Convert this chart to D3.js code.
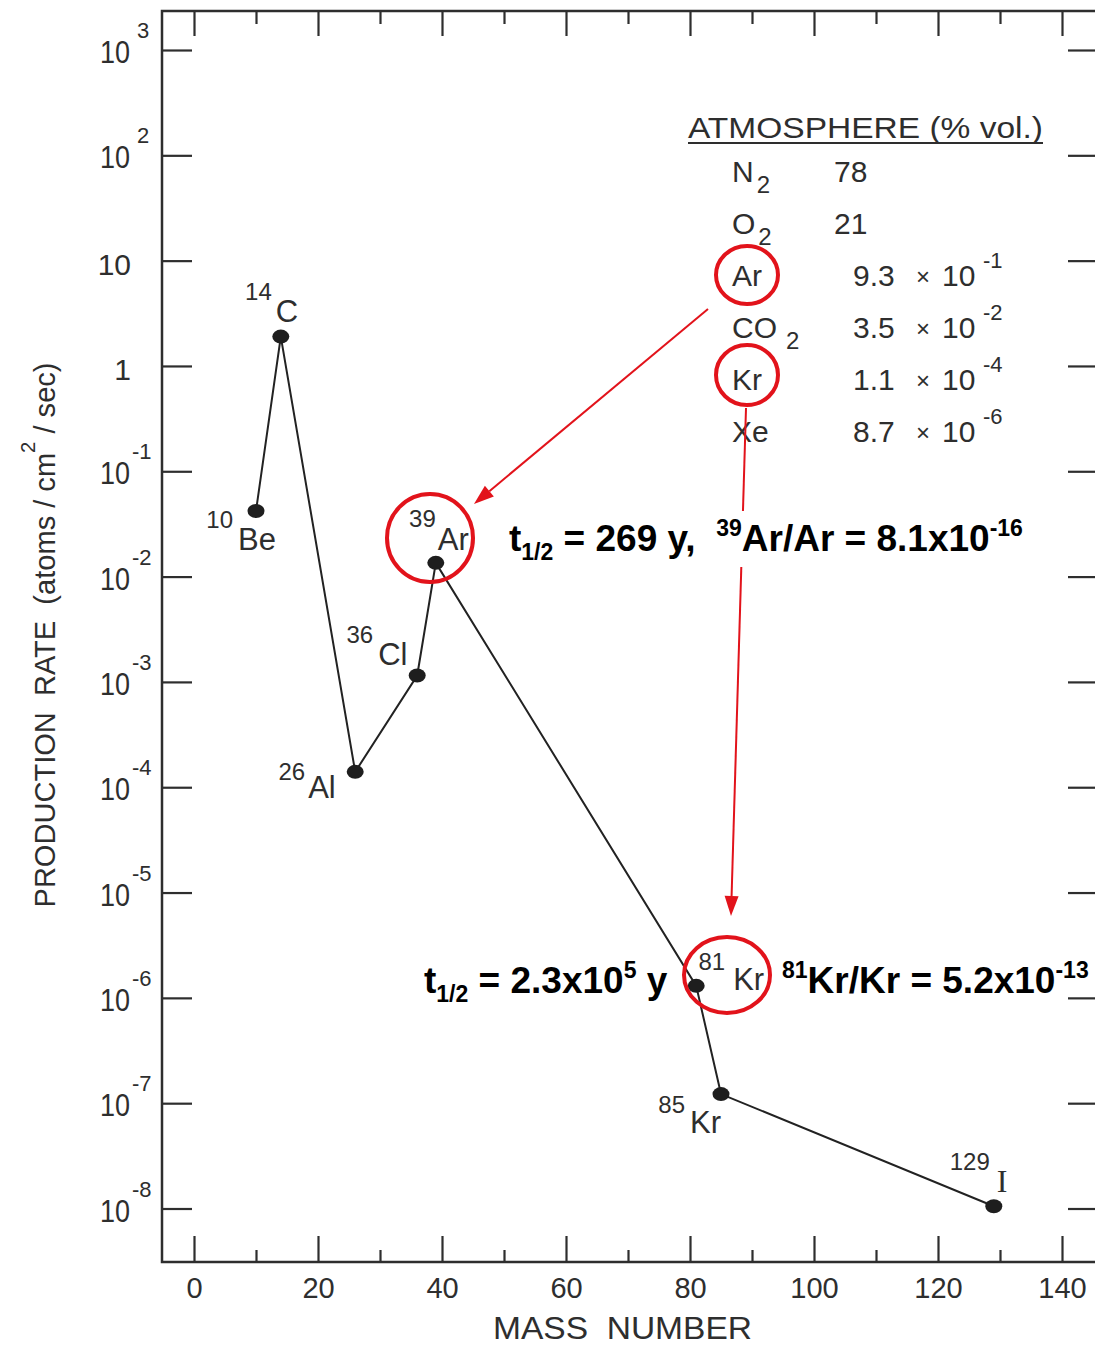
<!DOCTYPE html>
<html>
<head>
<meta charset="utf-8">
<script src="https://cdn.jsdelivr.net/npm/d3@7"></script>
<style>
  body { margin: 0; background: #fff; }
  svg { display: block; font-family: "Liberation Sans", Arial, sans-serif; }
  text { white-space: pre; }
</style>
</head>
<body>
<svg id="chart" width="1095" height="1347"></svg>
<script>
// isotope data: mass number and production rate (atoms / cm2 / sec)
var isotopes = ["10Be", "14C", "26Al", "36Cl", "39Ar", "81Kr", "85Kr", "129I"];
var massNumbers = [10, 14, 26, 36, 39, 81, 85, 129];
var elements = ["Be", "C", "Al", "Cl", "Ar", "Kr", "Kr", "I"];
var rates = [0.042, 1.9, 1.4e-4, 1.15e-3, 1.35e-2, 1.3e-6, 1.22e-7, 1.05e-8];
// plotted in this order along the line
var lineOrder = ["10Be", "14C", "26Al", "36Cl", "39Ar", "81Kr", "85Kr", "129I"];

// axis ticks
var xMajor = [0, 20, 40, 60, 80, 100, 120, 140];
var xMinor = [10, 30, 50, 70, 90, 110, 130];
var yExponents = [3, 2, 1, 0, -1, -2, -3, -4, -5, -6, -7, -8];

// atmosphere table
var atmGas = ["N", "O", "Ar", "CO", "Kr", "Xe"];
var atmSub = ["2", "2", "", "2", "", ""];
var atmValue = ["78", "21", "9.3", "3.5", "1.1", "8.7"];
var atmExp = [null, null, "-1", "-2", "-4", "-6"];

var svg = d3.select("#chart");
var ink = "#2e2e2e";

var frame = {left: 162, right: 1100, top: 11, bottom: 1262};
var x = d3.scaleLinear().domain([0, 140]).range([194, 1062]);
var y = d3.scaleLog().domain([1e-8, 1e3]).range([1208.5, 50]);

//frame
svg.append("path")
    .attr("d", "M" + frame.right + "," + frame.top + "H" + frame.left + "V" + frame.bottom + "H" + frame.right)
    .attr("fill", "none").attr("stroke", ink).attr("stroke-width", 2.5);

function styleAxis(g)
{
    g.select(".domain").remove();
    g.selectAll(".tick line").attr("stroke", ink).attr("stroke-width", 2.2);
}

//bottom axis, ticks pointing inward
svg.append("g").attr("transform", "translate(0," + frame.bottom + ")")
    .call(d3.axisBottom(x).tickValues(xMajor).tickSize(-26).tickPadding(15))
    .call(styleAxis)
    .call(function(g) {
        g.selectAll("text").attr("fill", ink).attr("font-size", 29)
            .attr("font-family", "Liberation Sans, Arial, sans-serif");
    });
svg.append("g").attr("transform", "translate(0," + frame.bottom + ")")
    .call(d3.axisBottom(x).tickValues(xMinor).tickSize(-12).tickFormat(""))
    .call(styleAxis);

//top axis
svg.append("g").attr("transform", "translate(0," + frame.top + ")")
    .call(d3.axisTop(x).tickValues(xMajor).tickSize(-25).tickFormat(""))
    .call(styleAxis);
svg.append("g").attr("transform", "translate(0," + frame.top + ")")
    .call(d3.axisTop(x).tickValues(xMinor).tickSize(-13).tickFormat(""))
    .call(styleAxis);

var decades = yExponents.map(function(e) { return Math.pow(10, e); });

//left axis
svg.append("g").attr("transform", "translate(" + frame.left + ",0)")
    .call(d3.axisLeft(y).tickValues(decades).tickSize(-30).tickFormat(""))
    .call(styleAxis);
//right axis (frame edge is just off the picture)
svg.append("g").attr("transform", "translate(" + frame.right + ",0)")
    .call(d3.axisRight(y).tickValues(decades).tickSize(-32).tickFormat(""))
    .call(styleAxis);

//y tick labels as 10 with superscript exponent
var yLab = svg.append("g").attr("fill", ink);
yExponents.forEach(function(e) {
    var ty = y(Math.pow(10, e));
    if (e == 0 || e == 1)
    {
        yLab.append("text").attr("x", 131).attr("y", ty + 14)
            .attr("text-anchor", "end").attr("font-size", 30)
            .text(e == 0 ? "1" : "10");
        return;
    }
    yLab.append("text").attr("x", 130).attr("y", ty + 13)
        .attr("text-anchor", "end").attr("font-size", 31)
        .attr("textLength", 30).attr("lengthAdjust", "spacingAndGlyphs")
        .text("10");
    yLab.append("text").attr("x", e > 0 ? 137 : 132).attr("y", ty - 12)
        .attr("font-size", 22)
        .text(e > 0 ? String(e) : "-" + Math.abs(e));
});

//axis titles
svg.append("text").attr("x", 493).attr("y", 1339)
    .attr("fill", ink).attr("font-size", 32)
    .attr("textLength", 259).attr("lengthAdjust", "spacingAndGlyphs")
    .text("MASS  NUMBER");

var yTitle = svg.append("text")
    .attr("transform", "translate(55,635) rotate(-90)")
    .attr("text-anchor", "middle")
    .attr("fill", ink).attr("font-size", 30)
    .attr("textLength", 545).attr("lengthAdjust", "spacingAndGlyphs");
yTitle.append("tspan").text("PRODUCTION  RATE  (atoms / cm");
yTitle.append("tspan").attr("font-size", 21).attr("dy", -20).text("2");
yTitle.append("tspan").attr("dy", 20).text(" / sec)");

//data line and points
var points = lineOrder.map(function(key) {
    var i = isotopes.indexOf(key);
    return {key: key, mass: massNumbers[i], rate: rates[i], element: elements[i]};
});

var line = d3.line()
    .x(function(d) { return x(d.mass); })
    .y(function(d) { return y(d.rate); });

svg.append("path").datum(points)
    .attr("d", line)
    .attr("fill", "none").attr("stroke", "#222").attr("stroke-width", 2);

svg.selectAll("ellipse.pt").data(points).enter()
    .append("ellipse").attr("class", "pt")
    .attr("cx", function(d) { return x(d.mass); })
    .attr("cy", function(d) { return y(d.rate); })
    .attr("rx", 8.5).attr("ry", 7)
    .attr("fill", "#1e1e1e");

//label offsets from each point: element start / baseline, mass number right edge / baseline
var labelOffset = {
    "10Be": [-18, 39, -23, 17],
    "14C":  [-5, -15, -9, -37],
    "26Al": [-47, 26, -50, 8],
    "36Cl": [-39, -11, -44, -33],
    "39Ar": [2, -13, 0, -36],
    "81Kr": [37, 4, 29, -16],
    "85Kr": [-31, 39, -36, 19],
    "129I": [3, -14, -4, -36]
};

var labels = svg.append("g").attr("fill", ink);
points.forEach(function(d) {
    var px = x(d.mass), py = y(d.rate), o = labelOffset[d.key];
    labels.append("text")
        .attr("x", px + o[2]).attr("y", py + o[3])
        .attr("text-anchor", "end").attr("font-size", 24)
        .text(String(d.mass));
    labels.append("text")
        .attr("x", px + o[0]).attr("y", py + o[1])
        .attr("font-size", d.element == "I" ? 32 : 31)
        .attr("font-family", d.element == "I" ? "Liberation Serif, serif" : null)
        .text(d.element);
});

//atmosphere table
var table = svg.append("g").attr("fill", ink).attr("font-size", 30);
table.append("text").attr("x", 688).attr("y", 138)
    .attr("textLength", 355).attr("lengthAdjust", "spacingAndGlyphs")
    .text("ATMOSPHERE (% vol.)");
table.append("line").attr("x1", 688).attr("x2", 1043).attr("y1", 143).attr("y2", 143)
    .attr("stroke", ink).attr("stroke-width", 2);

atmGas.forEach(function(gas, i) {
    var by = 182 + 52 * i;
    var t = table.append("text").attr("x", 732).attr("y", by);
    t.append("tspan").text(gas);
    if (atmSub[i])
        t.append("tspan").attr("dx", gas == "CO" ? 9 : 3).attr("dy", 11).attr("font-size", 24).text(atmSub[i]);
    if (atmExp[i] == null)
    {
        table.append("text").attr("x", 834).attr("y", by).text(atmValue[i]);
    }
    else
    {
        table.append("text").attr("x", 853).attr("y", by).text(atmValue[i]);
        table.append("text").attr("x", 916).attr("y", by - 1).attr("font-size", 24).text("\u00d7");
        table.append("text").attr("x", 942).attr("y", by).text("10");
        table.append("text").attr("x", 983).attr("y", by - 18).attr("font-size", 22).text(atmExp[i]);
    }
});

//red annotations
var red = "#e2131b";

function arrow(x1, y1, x2, y2)
{
    var ang = Math.atan2(y2 - y1, x2 - x1), len = 20, half = 7;
    var bx = x2 - len * Math.cos(ang), by = y2 - len * Math.sin(ang);
    svg.append("line").attr("x1", x1).attr("y1", y1).attr("x2", bx).attr("y2", by)
        .attr("stroke", red).attr("stroke-width", 2);
    var p1 = [bx + half * Math.sin(ang), by - half * Math.cos(ang)];
    var p2 = [bx - half * Math.sin(ang), by + half * Math.cos(ang)];
    svg.append("path")
        .attr("d", "M" + x2 + "," + y2 + "L" + p1.join(",") + "L" + p2.join(",") + "Z")
        .attr("fill", red);
}

arrow(708, 309, 474, 504);
arrow(746, 408, 731, 916);

// white text box for the 39Ar note hides the arrow behind it
svg.append("rect").attr("x", 503).attr("y", 511).attr("width", 535).attr("height", 56).attr("fill", "#fff");

function note(x0, y0, parts)
{
    var t = svg.append("text").attr("x", x0).attr("y", y0)
        .attr("font-size", 37).attr("font-weight", "bold").attr("fill", "#000");
    var shift = 0;
    parts.forEach(function(p) {
        var target = p[1] == "sub" ? 9 : p[1] == "sup" ? -15 : 0;
        var ts = t.append("tspan").attr("dy", target - shift).text(p[0]);
        if (p[1]) ts.attr("font-size", 23);
        shift = target;
    });
}

note(509, 551, [["t"], ["1/2", "sub"], [" = 269 y,  "], ["39", "sup"], ["Ar/Ar = 8.1x10"], ["-16", "sup"]]);
note(424, 993, [["t"], ["1/2", "sub"], [" = 2.3x10"], ["5", "sup"], [" y"]]);
note(782, 993, [["81", "sup"], ["Kr/Kr = 5.2x10"], ["-13", "sup"]]);

var rings = [
    {cx: 747, cy: 275, rx: 31, ry: 29},
    {cx: 747, cy: 375, rx: 31, ry: 30},
    {cx: 430, cy: 538, rx: 43, ry: 44},
    {cx: 727, cy: 975, rx: 43, ry: 38}
];
svg.selectAll("ellipse.ring").data(rings).enter()
    .append("ellipse").attr("class", "ring")
    .attr("cx", function(d) { return d.cx; })
    .attr("cy", function(d) { return d.cy; })
    .attr("rx", function(d) { return d.rx; })
    .attr("ry", function(d) { return d.ry; })
    .attr("fill", "none").attr("stroke", red).attr("stroke-width", 4);
</script>
</body>
</html>
